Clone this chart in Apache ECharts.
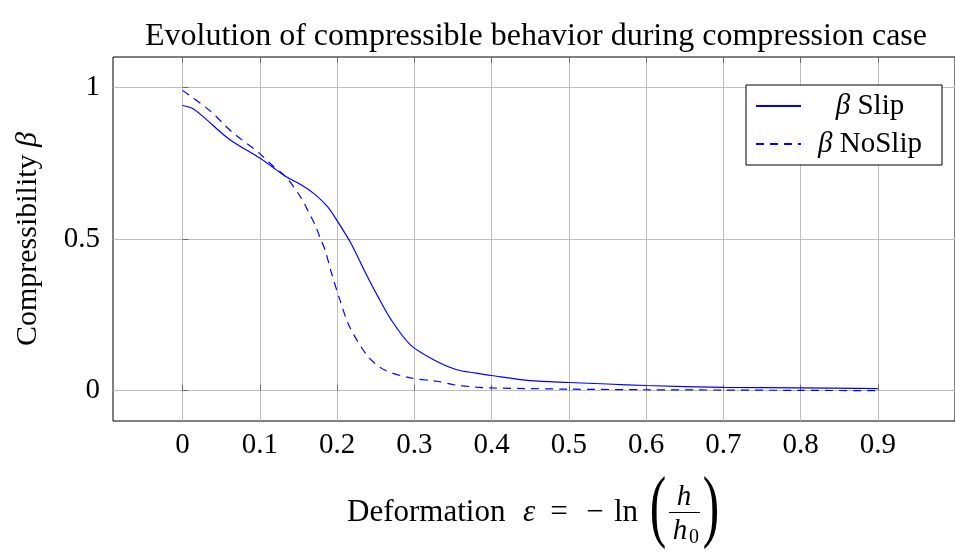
<!DOCTYPE html>
<html>
<head>
<meta charset="utf-8">
<style>html,body{margin:0;padding:0;background:#fff;}#c{width:955px;height:558px;}</style>
<script src="https://cdn.jsdelivr.net/npm/echarts@6/dist/echarts.min.js"></script>
</head>
<body>
<div id="c"></div>
<script>
const titleText = 'Evolution of compressible behavior during compression case';
const xTicks = [0, 0.1, 0.2, 0.3, 0.4, 0.5, 0.6, 0.7, 0.8, 0.9];
const yTicks = [0, 0.5, 1];

const slipX = [0, 0.013, 0.026, 0.06, 0.1, 0.116, 0.133, 0.154, 0.171, 0.188, 0.201, 0.218, 0.235, 0.253, 0.27, 0.295, 0.325, 0.355, 0.38, 0.4, 0.45, 0.5, 0.55, 0.6, 0.7, 0.8, 0.9];
const slipY = [0.94, 0.93, 0.905, 0.83, 0.767, 0.738, 0.707, 0.678, 0.648, 0.606, 0.557, 0.486, 0.398, 0.31, 0.234, 0.151, 0.102, 0.069, 0.058, 0.05, 0.033, 0.027, 0.022, 0.017, 0.011, 0.009, 0.007];

const noSlipX = [0, 0.035, 0.064, 0.099, 0.116, 0.133, 0.154, 0.163, 0.171, 0.178, 0.185, 0.192, 0.203, 0.216, 0.24, 0.261, 0.295, 0.329, 0.355, 0.38, 0.4, 0.5, 0.6, 0.7, 0.8, 0.9];
const noSlipY = [0.99, 0.924, 0.853, 0.784, 0.743, 0.707, 0.634, 0.59, 0.55, 0.505, 0.46, 0.395, 0.305, 0.212, 0.113, 0.069, 0.042, 0.031, 0.018, 0.012, 0.009, 0.005, 0.003, 0.002, 0.001, 0.0];

const FONT = '"Liberation Serif", "Times New Roman", serif';
const pair = (xs, ys) => xs.map((x, i) => [x, ys[i]]);

const chart = echarts.init(document.getElementById('c'), null, {renderer: 'canvas'});
const axisCommon = {
  type: 'value',
  axisLine: {show: false},
  splitLine: {show: true, lineStyle: {color: '#bfbfbf', width: 1}},
  axisTick: {show: true, inside: true, length: 6, lineStyle: {color: '#555', width: 0.8}}
};
function txt(text, x, y, font, align, vAlign) {
  return {type: 'text', x: x, y: y, style: {text: text, font: font, fill: '#000', align: align || 'center', verticalAlign: vAlign || 'middle'}};
}
function paren(text, x, y) {
  const t = txt(text, x, y, '52px ' + FONT);
  t.scaleY = 1.55;
  t.scaleX = 0.95;
  return t;
}
chart.setOption({
  animation: false,
  backgroundColor: '#fff',
  title: {
    text: titleText, left: 536, top: 21, textAlign: 'center', padding: 0,
    textStyle: {fontFamily: FONT, fontSize: 32, fontWeight: 'normal', color: '#000'}
  },
  grid: {left: 113, top: 57, right: -8, bottom: 137, show: true, borderColor: '#000', borderWidth: 1, backgroundColor: 'transparent'},
  legend: {
    orient: 'vertical', left: 746, top: 85, padding: [6, 8, 6, 9],
    itemWidth: 45, itemHeight: 14, itemGap: 8,
    itemStyle: {opacity: 0},
    backgroundColor: '#fff', borderColor: '#000', borderWidth: 1, borderRadius: 0,
    data: ['Slip', 'NoSlip'],
    formatter: n => '{ci|β}{c| ' + n + '}',
    textStyle: {
      fontFamily: FONT, fontSize: 29, color: '#000', width: 128, lineHeight: 30,
      rich: {
        ci: {fontFamily: FONT, fontSize: 29, fontStyle: 'italic', align: 'center', lineHeight: 30},
        c: {fontFamily: FONT, fontSize: 29, align: 'center', lineHeight: 30}
      }
    }
  },
  xAxis: [
    Object.assign({}, axisCommon, {
      min: -0.09, max: 1.0, position: 'bottom',
      axisTick: Object.assign({}, axisCommon.axisTick, {customValues: xTicks}),
      axisLabel: {customValues: xTicks, margin: 10, fontFamily: FONT, fontSize: 29, color: '#000'}
    }),
    Object.assign({}, axisCommon, {
      min: -0.09, max: 1.0, position: 'top', splitLine: {show: false},
      axisTick: Object.assign({}, axisCommon.axisTick, {customValues: xTicks}),
      axisLabel: {show: false, customValues: xTicks}
    })
  ],
  yAxis: {
    type: 'value', min: -0.1, max: 1.1, position: 'left',
    axisLine: {show: false},
    splitLine: {show: true, lineStyle: {color: '#bfbfbf', width: 1}},
    axisTick: {show: true, inside: true, length: 6, lineStyle: {color: '#555', width: 0.8}, customValues: yTicks},
    axisLabel: {customValues: yTicks, margin: 13, fontFamily: FONT, fontSize: 29, color: '#000'},
    name: 'Compressibility {i|β}', nameLocation: 'middle', nameRotate: 90, nameGap: 70,
    nameTextStyle: {
      fontFamily: FONT, fontSize: 30, color: '#000',
      rich: {i: {fontFamily: FONT, fontSize: 30, fontStyle: 'italic', color: '#000'}}
    }
  },
  graphic: [
    txt('Deformation', 347, 513, '31px ' + FONT, 'left'),
    txt('ε', 529, 513, 'italic 31px ' + FONT),
    txt('=', 559, 513, '31px ' + FONT),
    txt('−', 595, 513, '31px ' + FONT),
    txt('ln', 626, 513, '31px ' + FONT),
    paren('(', 658, 511),
    txt('h', 684, 497, 'italic 29px ' + FONT),
    {type: 'line', shape: {x1: 669, y1: 512.5, x2: 700, y2: 512.5}, style: {stroke: '#000', lineWidth: 1}},
    txt('h', 680, 531, 'italic 29px ' + FONT),
    txt('0', 694, 538, '20px ' + FONT),
    paren(')', 711, 511)
  ],
  series: [
    {name: 'Slip', type: 'line', xAxisIndex: 0, data: pair(slipX, slipY), smooth: 0.3, showSymbol: false, symbol: 'none',
      lineStyle: {color: '#0000ff', width: 1.2}, itemStyle: {color: '#0000ff'}},
    {name: 'NoSlip', type: 'line', xAxisIndex: 0, data: pair(noSlipX, noSlipY), smooth: 0.3, showSymbol: false, symbol: 'none',
      lineStyle: {color: '#0000ff', width: 1.2, type: [8, 6]}, itemStyle: {color: '#0000ff'}}
  ]
});
</script>
</body>
</html>
